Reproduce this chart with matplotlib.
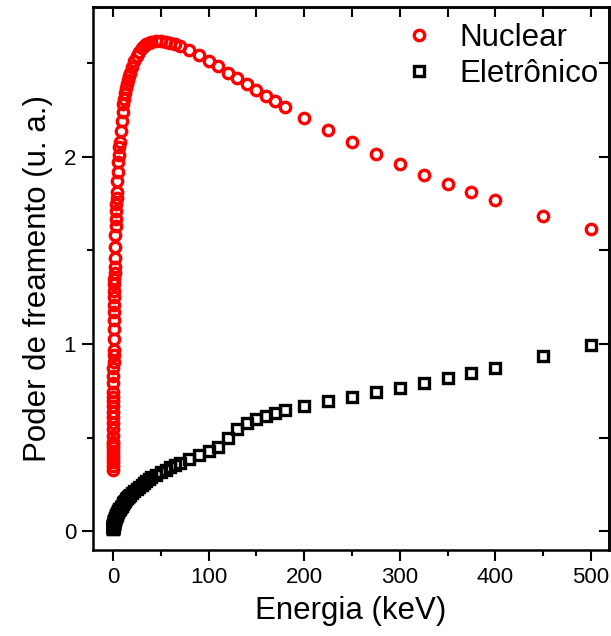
import matplotlib
matplotlib.use('Agg')
import matplotlib.pyplot as plt
import numpy as np

plt.rcParams['font.family'] = ['Liberation Sans', 'DejaVu Sans']

# energia (keV)
energia = [0.1, 0.11, 0.12, 0.13, 0.14, 0.15, 0.16, 0.17, 0.18, 0.2, 0.225, 0.25, 0.275,
           0.3, 0.325, 0.35, 0.375, 0.4, 0.45, 0.5, 0.55, 0.6, 0.65, 0.7, 0.8, 0.9,
           1, 1.1, 1.2, 1.3, 1.4, 1.5, 1.6, 1.7, 1.8, 2, 2.25, 2.5, 2.75,
           3, 3.25, 3.5, 3.75, 4, 4.5, 5, 5.5, 6, 6.5, 7, 8, 9,
           10, 11, 12, 13, 14, 15, 16, 17, 18, 20, 22.5, 25, 27.5,
           30, 32.5, 35, 37.5, 40, 45, 50, 55, 60, 65, 70, 80, 90,
           100, 110, 120, 130, 140, 150, 160, 170, 180, 200, 225, 250, 275,
           300, 325, 350, 375, 400, 450, 500]

nuclear = [0.33, 0.35, 0.37, 0.39, 0.41, 0.43, 0.45, 0.465, 0.48, 0.51, 0.545, 0.58, 0.61,
           0.64, 0.67, 0.695, 0.72, 0.745, 0.79, 0.83, 0.87, 0.905, 0.94, 0.97, 1.03, 1.08,
           1.13, 1.17, 1.21, 1.25, 1.285, 1.32, 1.35, 1.38, 1.41, 1.46, 1.52, 1.58, 1.63,
           1.67, 1.71, 1.75, 1.78, 1.81, 1.87, 1.92, 1.97, 2.01, 2.05, 2.08, 2.14, 2.19,
           2.24, 2.28, 2.31, 2.34, 2.37, 2.39, 2.41, 2.43, 2.45, 2.48, 2.51, 2.54, 2.56,
           2.58, 2.59, 2.60, 2.61, 2.615, 2.62, 2.62, 2.615, 2.61, 2.60, 2.59, 2.568, 2.545,
           2.513, 2.483, 2.45, 2.42, 2.39, 2.355, 2.326, 2.296, 2.266, 2.209, 2.144, 2.08, 2.016,
           1.963, 1.904, 1.856, 1.813, 1.77, 1.684, 1.615]

eletronico = [0.015, 0.015, 0.016, 0.017, 0.017, 0.018, 0.018, 0.019, 0.020, 0.021, 0.022, 0.023, 0.024,
              0.025, 0.026, 0.027, 0.028, 0.029, 0.031, 0.033, 0.034, 0.036, 0.037, 0.039, 0.041, 0.044,
              0.046, 0.048, 0.050, 0.052, 0.054, 0.056, 0.058, 0.060, 0.062, 0.065, 0.069, 0.073, 0.076,
              0.080, 0.083, 0.086, 0.089, 0.092, 0.098, 0.103, 0.108, 0.113, 0.117, 0.122, 0.130, 0.138,
              0.145, 0.152, 0.159, 0.165, 0.171, 0.177, 0.183, 0.188, 0.194, 0.204, 0.216, 0.228, 0.239,
              0.250, 0.260, 0.270, 0.279, 0.288, 0.303, 0.316, 0.330, 0.342, 0.355, 0.365, 0.386, 0.407,
              0.430, 0.452, 0.500, 0.546, 0.578, 0.600, 0.618, 0.632, 0.648, 0.672, 0.695, 0.720, 0.743,
              0.765, 0.795, 0.818, 0.845, 0.875, 0.935, 0.995]

fig = plt.figure(figsize=(6.11, 6.36), dpi=100)
ax = fig.add_axes([0.152, 0.135, 0.845, 0.854])

ax.plot(energia, nuclear, 'o', ms=7.5, mfc='none', mec='red', mew=2.4, label='Nuclear')
ax.plot(energia, eletronico, 's', ms=6.5, mfc='none', mec='black', mew=2.4, label='Eletrônico')

ax.set_xlim(-21, 519)
ax.set_ylim(-0.1, 2.8)
ax.set_xticks([0, 100, 200, 300, 400, 500])
ax.set_xticks(np.arange(50, 500, 100), minor=True)
ax.set_yticks([0, 1, 2])
ax.set_yticks([0.5, 1.5, 2.5], minor=True)

for s in ax.spines.values():
    s.set_linewidth(1.8)

ax.tick_params(which='major', direction='out', length=8, width=1.5, labelsize=16, pad=4)
ax.tick_params(which='minor', direction='out', length=4, width=1.5)

# ticks para dentro em cima e a direita
top = ax.secondary_xaxis('top')
top.set_xticks(np.arange(0, 501, 50))
top.tick_params(direction='in', length=7, width=1.5, labeltop=False)
right = ax.secondary_yaxis('right')
right.set_yticks(np.arange(0, 2.6, 0.5))
right.tick_params(direction='in', length=7, width=1.5, labelright=False)
top.spines['top'].set_linewidth(1.8)
right.spines['right'].set_linewidth(1.8)

ax.set_xlabel('Energia (keV)', fontsize=22.5, labelpad=6)
ax.set_ylabel('Poder de freamento (u. a.)', fontsize=22.5, labelpad=8)

ax.legend(loc='upper right', frameon=False, fontsize=22.5, numpoints=1,
          handlelength=1.0, handletextpad=0.8, labelspacing=0.2,
          borderaxespad=0.1, bbox_to_anchor=(1.01, 1.0))

plt.savefig('out.png', dpi=100)
